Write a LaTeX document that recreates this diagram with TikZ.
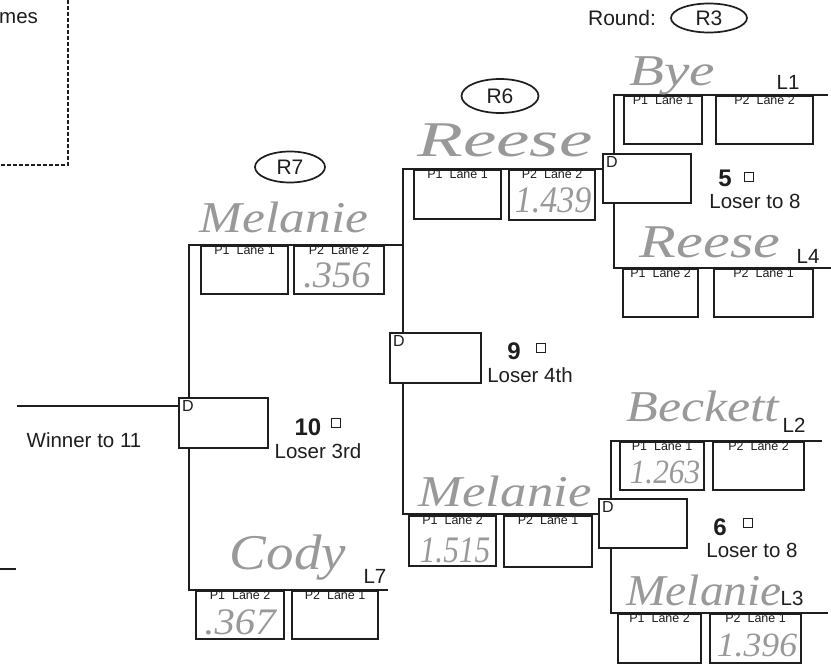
\documentclass[tikz,border=0pt]{standalone}
\usepackage{fontspec}
\setmainfont{Liberation Sans}
\newfontfamily\handfont{Liberation Serif}
\usetikzlibrary{shapes.geometric}
\definecolor{ink}{HTML}{1E1E1E}
\definecolor{pencil}{HTML}{999999}
\pgfdeclarelayer{bg}
\pgfsetlayers{bg,main}
\newcommand\fsz[1]{\fontsize{#1}{#1}\selectfont}
\tikzset{
  bline/.style={draw=ink, line width=1.9pt},
  slot/.style={draw=ink, line width=2.2pt, fill=white, inner sep=0pt, anchor=north west},
  lbl/.style={anchor=north, inner sep=1pt, font=\fsz{12.5}, text=ink},
  dlbl/.style={anchor=north west, inner sep=1pt, font=\fsz{16}, text=ink},
  big/.style={font=\fsz{20.5}, text=ink, inner sep=0pt},
  num/.style={font=\fsz{24}\bfseries, text=ink, inner sep=0pt},
  chk/.style={draw=ink, line width=1.3pt, minimum size=9pt, inner sep=0pt},
  rnd/.style={draw=ink, line width=1.7pt, ellipse, inner sep=0pt, font=\fsz{21}, text=ink},
  hand/.style={font=\handfont\itshape\fsz{44}, text=pencil, inner sep=0pt},
  handnum/.style={font=\handfont\itshape\fsz{34}, text=pencil, inner sep=0pt},
  dashy/.style={draw=ink, line width=2.2pt, dash pattern=on 4pt off 2pt},
}
\newcommand\slotbox[6]{%
  \node[slot, minimum width=#4pt, minimum height=#5pt] (#1) at (#2,#3) {};
  \node[lbl] (#1-t) at (#1.north) {#6};}
\newcommand\dbox[3]{%
  \node[slot, minimum width=88pt, minimum height=49pt] (#1) at (#2,#3) {};
  \node[dlbl] (#1-t) at ([xshift=3pt,yshift=-2pt]#1.north west) {D};}
\begin{document}
\begin{tikzpicture}[x=1pt,y=-1pt]
\useasboundingbox (0,0) rectangle (831,666);

% top-left dashed corner
\coordinate (dtop) at (68,0);
\coordinate (dcor) at (68,165);
\coordinate (dlft) at (0,165);
\draw[dashy] (dtop) -- (dcor) -- (dlft);
\node[big, anchor=west] (names) at (-1,18) {mes};

% round headers
\node[big, font=\fsz{21}] (roundlbl) at (622,18) {Round:};
\node[rnd, minimum width=76pt, minimum height=29pt] (r3) at (709,18) {R3};
\node[rnd, minimum width=77pt, minimum height=34pt] (r6) at (500,96) {R6};
\node[rnd, minimum width=70pt, minimum height=31pt] (r7) at (290,167) {R7};

% ---------- match 5 ----------
\slotbox{m5a}{623}{95}{78}{48}{P1\ \ Lane 1}
\slotbox{m5b}{715}{95}{97}{48}{P2\ \ Lane 2}
\dbox{d5}{602}{153}
\slotbox{m5c}{622}{268}{75}{48}{P1\ \ Lane 2}
\slotbox{m5d}{713}{268}{99}{48}{P2\ \ Lane 1}
\node[num] (n5) at (725,178) {5};
\node[chk] (c5) at (749,177) {};
\node[big] (l5) at (755,201) {Loser to 8};
\node[big] (L1) at (788,82) {L1};
\node[big] (L4) at (808,256) {L4};

% ---------- match 6 ----------
\slotbox{m6a}{619}{441}{84}{48}{P1\ \ Lane 1}
\slotbox{m6b}{712}{441}{91}{48}{P2\ \ Lane 2}
\dbox{d6}{598}{498}
\slotbox{m6c}{617}{613}{83}{49}{P1\ \ Lane 2}
\slotbox{m6d}{709}{613}{91}{49}{P2\ \ Lane 1}
\node[num] (n6) at (720,527) {6};
\node[chk] (c6) at (748,523) {};
\node[big] (l6) at (752,550) {Loser to 8};
\node[big] (L2) at (794,425) {L2};
\node[big] (L3) at (792,598) {L3};

% ---------- R6 (match 9) ----------
\slotbox{r6a}{413}{169}{87}{49}{P1\ \ Lane 1}
\slotbox{r6b}{508}{169}{86}{50}{P2\ \ Lane 2}
\node[slot, minimum width=91pt, minimum height=50pt] (d9) at (389,332) {};
\node[dlbl] (d9-t) at ([xshift=3pt,yshift=-2pt]d9.north west) {D};
\slotbox{r6c}{408}{515}{87}{50}{P1\ \ Lane 2}
\slotbox{r6d}{503}{515}{88}{51}{P2\ \ Lane 1}
\node[num] (n9) at (514,351) {9};
\node[chk] (c9) at (541,348) {};
\node[big] (l9) at (530,375) {Loser 4th};

% ---------- R7 (match 10) ----------
\slotbox{r7a}{200}{245}{87}{48}{P1\ \ Lane 1}
\slotbox{r7b}{293}{245}{90}{48}{P2\ \ Lane 2}
\node[slot, minimum width=89pt, minimum height=50pt] (d10) at (178,397) {};
\node[dlbl] (d10-t) at ([xshift=3pt,yshift=-2pt]d10.north west) {D};
\slotbox{r7c}{195}{590}{88}{48}{P1\ \ Lane 2}
\slotbox{r7d}{291}{590}{86}{48}{P2\ \ Lane 1}
\node[num] (n10) at (308,427) {10};
\node[chk] (c10) at (336,423) {};
\node[big] (l10) at (318,451) {Loser 3rd};
\node[big] (L7) at (375,576) {L7};
\node[big] (w11t) at (84,440) {Winner to 11};

% ---------- connectors (behind boxes) ----------
\coordinate (m5t) at (614,95);  \coordinate (m5te) at (828,95);
\coordinate (m5b) at (614,268); \coordinate (m5be) at (831,268);
\coordinate (m6t) at (611,441); \coordinate (m6te) at (822,441);
\coordinate (m6b) at (611,613); \coordinate (m6be) at (828,613);
\coordinate (r6t) at (403,169); \coordinate (r6b) at (403,514);
\coordinate (r7t) at (189,245); \coordinate (r7b) at (189,590);
\coordinate (r7be) at (388,590);
\coordinate (w11) at (17,406);
\coordinate (s1) at (0,569); \coordinate (s2) at (16,569);
\begin{pgfonlayer}{bg}
  \fill[white] (0,0) rectangle (831,666);
  \draw[bline] (m5te) -- (m5t) -- (m5b) -- (m5be);
  \draw[bline] (m6te) -- (m6t) -- (m6b) -- (m6be);
  \draw[bline] (r6t -| d5.west) -- (r6t) -- (r6b) -- (r6b -| d6.west);
  \draw[bline] (r7t -| r6t) -- (r7t) -- (r7b) -- (r7be);
  \draw[bline] (w11) -- (w11 -| d10.west);
  \draw[bline] (s1) -- (s2);
\end{pgfonlayer}

% ---------- handwriting ----------
\node[hand] (hbye) at (672,76) {\scalebox{1.3}[1]{Bye}};
\node[hand, font=\handfont\itshape\fsz{50}] (hreese1) at (505,140) {\scalebox{1.5}[1]{Reese}};
\node[handnum] (t1439) at (553,200) {\scalebox{1.0}[1.1]{1.439}};
\node[hand, font=\handfont\itshape\fsz{47}] (hreese2) at (710,242) {\scalebox{1.28}[1]{Reese}};
\node[hand] (hmel1) at (284,217) {\scalebox{1.17}[1]{Melanie}};
\node[handnum] (t356) at (337,275) {\scalebox{1.13}[1.1]{.356}};
\node[hand] (hbeck) at (703,406) {\scalebox{1.18}[1]{Beckett}};
\node[handnum] (t1263) at (665,472) {\scalebox{0.92}[1]{1.263}};
\node[hand] (hmel2) at (505,491) {\scalebox{1.2}[1]{Melanie}};
\node[handnum] (t1515) at (455,550) {\scalebox{0.92}[1.1]{1.515}};
\node[hand] (hmel3) at (704,590) {\scalebox{1.08}[1]{Melanie}};
\node[handnum] (t1396) at (757,645) {\scalebox{1.05}[1]{1.396}};
\node[hand, font=\handfont\itshape\fsz{50}] (hcody) at (288,558) {\scalebox{1.1}[1]{Cody}};
\node[handnum] (t367) at (240,622) {\scalebox{1.2}[1.1]{.367}};
\end{tikzpicture}
\end{document}
